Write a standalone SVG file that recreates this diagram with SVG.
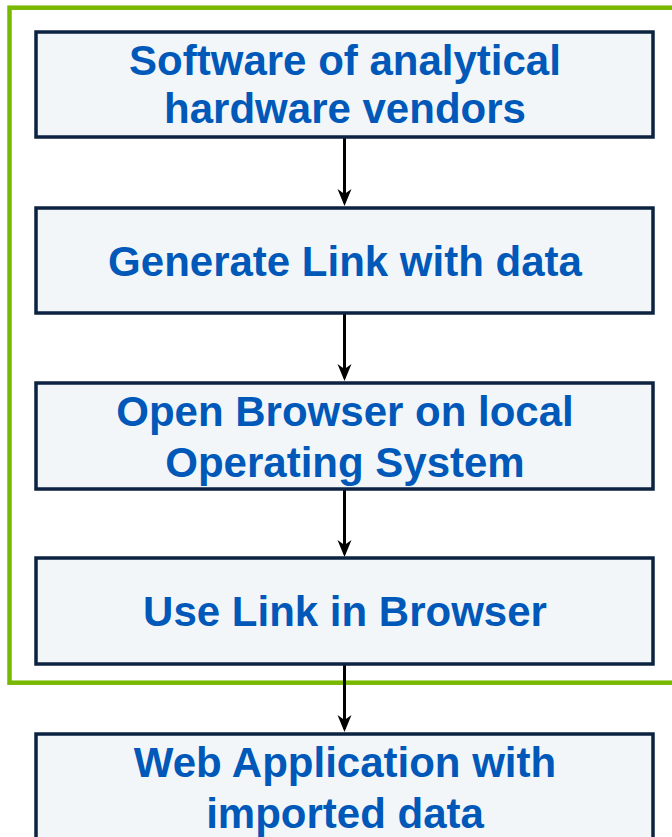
<svg xmlns="http://www.w3.org/2000/svg" width="672" height="837" viewBox="0 0 672 837">
<style>
.box{fill:#F2F6F8;stroke:#0B2240;stroke-width:3.5}
.lbl{font-family:"Liberation Sans",Arial,sans-serif;font-weight:bold;font-size:42px;fill:#0058B9;text-anchor:middle}
.conn{stroke:#000;stroke-width:3;fill:none;marker-end:url(#ah)}
.frame{fill:none;stroke:#78B800;stroke-width:4.5}
</style>
<defs>
<marker id="ah" markerUnits="userSpaceOnUse" markerWidth="20" markerHeight="16" viewBox="0 0 20 16" refX="15" refY="8" orient="auto">
<path d="M1,1 L18,8 L1,15 L6,8 Z" fill="#000"/>
</marker>
</defs>
<rect id="frame" class="frame" x="9.5" y="7.7" width="680" height="675"/>
<g id="connectors">
<path class="conn" d="M344.5,138 V203"/>
<path class="conn" d="M344.5,314 V378"/>
<path class="conn" d="M344.5,490 V554"/>
<path class="conn" d="M344.5,665 V729"/>
</g>
<g id="n1">
<rect class="box" x="36" y="32" width="617" height="105"/>
<text class="lbl" x="345" y="75">Software of analytical</text>
<text class="lbl" x="345" y="123">hardware vendors</text>
</g>
<g id="n2">
<rect class="box" x="36" y="208" width="617" height="105"/>
<text class="lbl" x="345" y="276">Generate Link with data</text>
</g>
<g id="n3">
<rect class="box" x="36" y="383" width="617" height="106"/>
<text class="lbl" x="345" y="426">Open Browser on local</text>
<text class="lbl" x="345" y="477">Operating System</text>
</g>
<g id="n4">
<rect class="box" x="36" y="558" width="617" height="106"/>
<text class="lbl" x="345" y="626">Use Link in Browser</text>
</g>
<g id="n5">
<rect class="box" x="36" y="734" width="617" height="110"/>
<text class="lbl" x="345" y="777">Web Application with</text>
<text class="lbl" x="345" y="828">imported data</text>
</g>
</svg>
